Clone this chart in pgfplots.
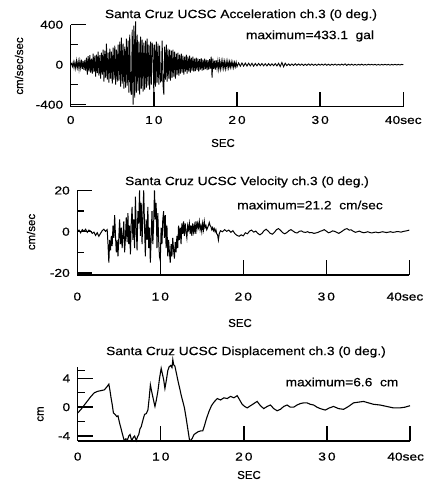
\documentclass[border=0pt]{standalone}
\usepackage{fontspec}
\setmainfont{Liberation Sans}[FakeStretch=1.15, FakeBold=0.4]
\newfontfamily\tickfont{Liberation Sans}[FakeStretch=1.2, FakeBold=0.5]
\newfontfamily\plainfont{Liberation Sans}[FakeBold=0.5]
\usepackage{pgfplots}
\pgfplotsset{compat=1.18}
\newcommand\ticksz{\tickfont\fontsize{11.5}{13}\selectfont}
\newcommand\titsz{\fontsize{12}{14}\selectfont}
\newcommand\labsz{\plainfont\fontsize{11.5}{13}\selectfont}
\newcommand\ylabsz{\plainfont\fontsize{11.5}{13}\selectfont}
\pgfplotsset{seis/.style={
  scale only axis, enlargelimits=false, clip=false,
  axis x line=bottom, axis y line=left,
  axis line style={-, line width=1.6pt},
  xmin=0, xmax=40,
  xtick={0,10,20,30,40},
  tick align=inside,
  major tick length=15bp, minor tick length=7bp,
  every tick/.style={black, line width=1.4pt},
  tick label style={font=\ticksz},
  yticklabel style={xshift=-4bp},
  /pgf/number format/assume math mode=true,
}}
\begin{document}
\begin{tikzpicture}
\useasboundingbox (0,0) rectangle (425bp,-484bp);
% ---------------- Acceleration
\begin{axis}[seis, at={(70.7bp,-106.7bp)}, anchor=south west,
  width=332.6bp, height=82bp, ymin=-420, ymax=400,
  xticklabels={0,1\hspace{2pt}0,2\hspace{2pt}0,3\hspace{2pt}0,40sec},
  ytick={-400,0,400}, yticklabels={-400,0,400}, minor ytick={-200,200},
  xticklabel style={yshift=-5.7bp}]
\addplot[black, line width=0.9pt, mark=none] coordinates {
(0,0)(0.1,12)(0.2,-18)(0.3,25)(0.4,-30)(0.5,22)(0.6,-35)(0.7,40)(0.8,-28)(0.9,33)
(1.0,-45)(1.1,38)(1.2,-30)(1.3,50)(1.4,-42)(1.5,35)(1.6,-55)(1.7,48)(1.8,-60)(1.9,70)
(2.0,-100)(2.1,85)(2.2,-70)(2.3,95)(2.4,-80)(2.5,60)(2.6,-90)(2.7,110)(2.8,-75)(2.9,90)
(3.0,-120)(3.1,100)(3.2,-85)(3.3,130)(3.4,-110)(3.5,95)(3.6,-140)(3.7,120)(3.8,-100)(3.9,150)
(4.0,-170)(4.1,140)(4.2,-130)(4.3,210)(4.4,-150)(4.5,120)(4.6,-180)(4.7,160)(4.8,-140)(4.9,130)
(5.0,-190)(5.1,170)(5.2,-150)(5.3,190)(5.4,-200)(5.5,150)(5.6,-170)(5.7,200)(5.8,-160)(5.9,230)
(6.0,-220)(6.1,270)(6.2,-190)(6.3,210)(6.4,-240)(6.5,180)(6.6,-230)(6.7,260)(6.8,-210)(6.9,240)
(7.0,-280)(7.1,300)(7.2,-250)(7.3,-300)(7.4,350)(7.5,-400)(7.6,390)(7.7,-330)(7.8,433)(7.9,-280)
(8.0,300)(8.1,-260)(8.2,230)(8.3,-300)(8.4,280)(8.5,-240)(8.6,250)(8.7,-270)(8.8,220)(8.9,-250)
(9.0,240)(9.1,-230)(9.2,260)(9.3,-210)(9.4,200)(9.5,-250)(9.6,230)(9.7,-200)(9.8,210)(9.9,190)
(10.0,-330)(10.1,200)(10.2,-220)(10.3,230)(10.4,-180)(10.5,210)(10.6,-200)(10.7,190)(10.8,-170)(10.9,-160)
(11.0,240)(11.1,-200)(11.2,-300)(11.3,180)(11.4,-150)(11.5,200)(11.6,-170)(11.7,160)(11.8,-140)(11.9,150)
(12.0,-160)(12.1,140)(12.2,-130)(12.3,150)(12.4,-120)(12.5,130)(12.6,-140)(12.7,110)(12.8,-100)(12.9,120)
(13.0,-110)(13.1,100)(13.2,-90)(13.3,110)(13.4,-80)(13.5,90)(13.6,-100)(13.7,80)(13.8,-70)(13.9,100)
(14.0,-90)(14.1,80)(14.2,-70)(14.3,90)(14.4,-80)(14.5,70)(14.6,-60)(14.7,80)(14.8,-70)(14.9,60)
(15.0,-65)(15.1,70)(15.2,-55)(15.3,60)(15.4,-70)(15.5,55)(15.6,-50)(15.7,65)(15.8,-60)(15.9,50)
(16.0,-55)(16.1,60)(16.2,-45)(16.3,50)(16.4,-55)(16.5,45)(16.6,-50)(16.7,55)(16.8,-40)(16.9,80)
(17.0,-130)(17.1,60)(17.2,-45)(17.3,40)(17.4,-50)(17.5,45)(17.6,-35)(17.7,40)(17.8,-45)(17.9,35)
(18.0,-40)(18.1,35)(18.2,-30)(18.3,40)(18.4,-35)(18.5,30)(18.6,-38)(18.7,32)(18.8,-28)(18.9,35)
(19.0,-30)(19.1,28)(19.2,-25)(19.3,30)(19.4,-22)(19.5,25)(19.6,-28)(19.7,22)(19.8,-20)(19.9,25)
(20.0,-20)(20.2,18)(20.4,-15)(20.6,17)(20.8,-14)(21.0,16)(21.2,-13)(21.4,15)(21.6,-12)(21.8,14)
(22.0,-15)(22.2,12)(22.4,-11)(22.6,13)(22.8,-10)(23.0,12)(23.2,-11)(23.4,10)(23.6,-12)(23.8,11)
(24.0,-10)(24.2,9)(24.4,-10)(24.6,11)(24.8,-12)(25.0,14)(25.2,-18)(25.4,22)(25.6,-20)(25.8,15)
(26.0,-10)(26.2,8)(26.4,-9)(26.6,7)(26.8,-8)(27.0,9)(27.2,-7)(27.4,8)(27.6,-6)(27.8,7)
(28.0,-8)(28.2,6)(28.4,-7)(28.6,8)(28.8,-6)(29.0,7)(29.2,-6)(29.4,5)(29.6,-7)(29.8,6)
(30.0,-5)(30.2,6)(30.4,-5)(30.6,7)(30.8,-6)(31.0,5)(31.2,-6)(31.4,5)(31.6,-4)(31.8,6)
(32.0,-5)(32.2,4)(32.4,-5)(32.6,6)(32.8,-4)(33.0,8)(33.2,-7)(33.4,5)(33.6,-4)(33.8,5)
(34.0,-5)(34.2,4)(34.4,-5)(34.6,4)(34.8,-4)(35.0,5)(35.2,-4)(35.4,3)(35.6,-4)(35.8,5)
(36.0,-3)(36.2,4)(36.4,-3)(36.6,4)(36.8,-4)(37.0,3)(37.2,-4)(37.4,3)(37.6,-3)(37.8,4)
(38.0,-3)(38.2,3)(38.4,-4)(38.6,3)(38.8,-3)(39.0,4)(39.2,-3)(39.4,3)(39.6,-3)(39.8,3)(40.0,0)
};
\end{axis}
% ---------------- Velocity
\begin{axis}[seis, at={(77.3bp,-275bp)}, anchor=south west,
  width=332bp, height=84.5bp, ymin=-21, ymax=20,
  xticklabels={0,1\hspace{2pt}0,2\hspace{2pt}0,3\hspace{2pt}0,\makebox[28bp][r]{40sec}},
  ytick={-20,0,20}, yticklabels={-20,0,20}, minor ytick={-10,10},
  xticklabel style={yshift=-14bp}]
\addplot[black, line width=1pt, mark=none] coordinates {
(0,0)(0.2,0.8)(0.4,-0.5)(0.6,1.0)(0.8,0.2)(1.0,1.2)(1.2,-0.3)(1.4,0.8)(1.6,0.3)(1.8,-0.8)
(2.0,-0.2)(2.2,-1.8)(2.4,-0.5)(2.6,-2.2)(2.8,-0.8)(3.0,0.5)(3.2,1.2)(3.4,0.2)(3.6,1.0)
(3.7,-6)(3.8,-15)(3.9,-4)(4.0,-9)(4.1,-2)(4.2,-7)(4.3,3)(4.4,-3)(4.5,8)(4.6,-2)
(4.7,-10)(4.8,-4)(4.9,-12)(5.0,-3)(5.1,6)(5.2,-6)(5.3,2)(5.4,-8)(5.5,-2)(5.6,5)
(5.7,-10)(5.8,-3)(5.9,7)(6.0,-5)(6.1,9)(6.2,-6)(6.3,3)(6.4,-11)(6.5,4)(6.6,12)
(6.7,-4)(6.8,6)(6.9,-8)(7.0,17)(7.1,2)(7.2,-9)(7.3,10)(7.4,4)(7.5,20)(7.6,-2)
(7.7,14)(7.8,-6)(7.9,8)(8.0,20)(8.1,3)(8.2,-12)(8.3,6)(8.4,-4)(8.5,12)(8.6,-8)
(8.7,2)(8.8,-15)(8.9,-3)(9.0,10)(9.1,-6)(9.2,4)(9.3,20)(9.4,6)(9.5,14)(9.6,-8)
(9.7,9)(9.8,-4)(9.9,-12)(10.0,-14)(10.1,2)(10.2,-6)(10.3,6)(10.4,10)(10.5,-3)(10.6,8)
(10.7,-8)(10.8,3)(10.9,-12)(11.0,-4)(11.1,-10)(11.2,-15)(11.3,-6)(11.4,-12)(11.5,-3)(11.6,-9)
(11.7,-13)(11.8,-5)(11.9,-10)(12.0,-2)(12.1,-8)(12.2,3)(12.3,-4)(12.4,2)(12.5,-6)(12.6,4)
(12.7,-1)(12.8,5)(12.9,-2)(13.0,4)(13.1,0)(13.2,-3)(13.3,3)(13.4,1)(13.5,4)(13.6,-1)
(13.7,3)(13.8,-2)(13.9,4)(14.0,0)(14.1,3)(14.2,-1)(14.3,5)(14.4,1)(14.5,4)(14.6,2)
(14.7,5)(14.8,1)(14.9,3)(15.0,0)(15.1,4)(15.2,1)(15.3,5)(15.4,2)(15.5,3)(15.6,1)
(15.7,2)(15.8,3)(15.9,4.5)(16.0,3)(16.1,2.5)(16.2,1)(16.3,2)(16.4,0.5)(16.5,1.5)(16.6,0)
(16.7,1)(16.8,-1)(16.9,-1.5)(17.0,-4)(17.1,-1)
(17.25,0.5)(17.5,0)(17.75,1)(18.0,0.2)(18.25,0.8)(18.5,-0.3)(18.75,0.5)(19.0,-1)(19.25,-1.8)(19.5,-2.2)
(19.75,-1.5)(20.0,-2)(20.25,-0.5)(20.5,-1)(20.75,0.3)(21.0,0.8)(21.25,-0.2)(21.5,0.3)(21.75,-0.8)(22.0,-1.5)
(22.25,-0.8)(22.5,0.5)(22.75,1.2)(23.0,0.3)(23.25,-0.8)(23.5,-1.2)(23.75,-0.3)(24.0,1.0)(24.25,1.5)(24.5,0.6)
(24.75,-0.5)(25.0,-1.0)(25.25,-0.4)(25.5,0.5)(25.75,1.0)(26.0,0.3)(26.25,-0.4)(26.5,-0.6)(26.75,0.2)(27.0,0.4)
(27.25,-0.2)(27.5,-0.3)(27.75,0)(28.0,-0.5)(28.25,-0.4)(28.5,-0.8)(28.75,-0.6)(29.0,-0.3)(29.25,0.2)(29.5,0.5)
(29.75,1.0)(30.0,0.3)(30.25,-0.5)(30.5,-0.2)(30.75,0.4)(31.0,0.2)(31.25,-0.3)(31.5,-0.8)(31.75,-0.2)(32.0,0.5)
(32.25,1.2)(32.5,1.5)(32.75,0.8)(33.0,0.9)(33.25,0.2)(33.5,-0.3)(33.75,0)(34.0,0.3)(34.25,-0.2)(34.5,-0.5)
(34.75,-0.3)(35.0,0)(35.25,-0.4)(35.5,-0.6)(35.75,-0.3)(36.0,-0.2)(36.25,-0.5)(36.5,-0.3)(36.75,0)(37.0,-0.2)
(37.25,-0.4)(37.5,-0.2)(37.75,0)(38.0,-0.3)(38.25,-0.2)(38.5,0.1)(38.75,0)(39.0,-0.2)(39.25,0.1)(39.5,0.3)
(39.75,0.5)(40.0,0.8)
};
\end{axis}
% ---------------- Displacement
\begin{axis}[seis, at={(77.7bp,-441bp)}, anchor=south west,
  width=332.3bp, height=74.5bp, ymin=-4.7, ymax=5.65,
  xticklabels={0,1\hspace{2pt}0,2\hspace{2pt}0,3\hspace{2pt}0,\makebox[28bp][r]{40sec}},
  ytick={-4,0,4}, yticklabels={-4,0,4}, minor ytick={-2,2,5.1},
  xticklabel style={yshift=-8bp}]
\addplot[black, line width=1.1pt, mark=none] coordinates {
(0,-0.8)(0.4,-0.3)(0.8,0.3)(1.2,0.9)(1.6,1.5)(2.0,2.0)(2.4,2.2)(2.8,2.3)(3.2,2.4)(3.5,2.8)
(3.75,3.2)(3.9,2.2)(4.0,1.4)(4.15,0.4)(4.3,-0.8)(4.5,-1.0)(4.7,-1.3)(4.85,-1.2)(5.0,-2.0)(5.2,-2.9)
(5.4,-3.8)(5.6,-4.65)(5.8,-4.4)(6.0,-4.5)(6.15,-4.0)(6.3,-3.8)(6.5,-4.65)(6.7,-4.2)(6.85,-4.0)(7.05,-4.65)
(7.2,-4.1)(7.35,-3.8)(7.5,-3.0)(7.65,-2.7)(7.85,-1.8)(8.05,-1.0)(8.25,-0.9)(8.45,-0.4)(8.6,1.2)(8.75,3.1)
(8.9,2.2)(9.05,1.4)(9.2,0.6)(9.3,0.1)(9.45,0.9)(9.65,2.2)(9.85,4.0)(10.05,5.4)(10.2,4.6)(10.35,3.8)
(10.5,2.6)(10.65,3.6)(10.85,5.1)(11.0,5.6)(11.2,5.8)(11.35,5.5)(11.45,6.6)(11.55,5.9)(11.7,5.7)(11.9,4.6)
(12.1,3.5)(12.3,2.5)(12.45,1.7)(12.65,0.8)(12.85,-0.1)(13.05,-1.5)(13.25,-3.0)(13.45,-4.5)(13.6,-4.65)(13.8,-4.3)
(14.0,-3.8)(14.25,-3.6)(14.5,-3.4)(14.8,-3.3)(15.05,-3.3)(15.25,-2.6)(15.5,-1.6)(15.8,-0.6)(16.1,0.2)(16.4,0.7)
(16.8,1.2)(17.2,1.0)(17.6,1.3)(18.0,1.2)(18.4,1.5)(18.8,1.3)(19.2,1.6)(19.5,1.0)(19.8,0.4)(20.1,0.1)
(20.4,-0.1)(20.8,0.2)(21.2,0.5)(21.6,0.8)(22.0,0.2)(22.4,-0.2)(22.8,0.1)(23.2,0.3)(23.6,-0.2)(24.0,-0.5)
(24.4,-0.3)(24.8,0.1)(25.2,0.3)(25.6,0.0)(26.0,0.0)(26.4,0.3)(26.8,0.5)(27.2,0.6)(27.6,0.6)(28.0,0.4)
(28.4,0.3)(28.8,0.0)(29.2,-0.2)(29.8,-0.4)(30.3,-0.1)(30.8,0.1)(31.4,-0.2)(32.0,-0.3)(32.6,0.1)(33.2,0.6)
(33.8,0.7)(34.4,0.8)(35.0,0.6)(35.6,0.4)(36.4,0.3)(37.2,0.1)(38.0,-0.1)(38.8,-0.1)(39.4,0.0)(40.0,0.2)
};
\end{axis}
% ---------------- texts
\node[font=\titsz] at (241bp,-15bp) {Santa Cruz UCSC Acceleration ch.3 (0 deg.)};
\node[font=\titsz] at (310bp,-36bp) {maximum=433.1\ \ gal};
\node[font=\labsz] at (223bp,-143bp) {SEC};
\node[font=\ylabsz, rotate=90] at (19bp,-66bp) {cm/sec/sec};

\node[font=\titsz] at (247bp,-182bp) {Santa Cruz UCSC Velocity ch.3 (0 deg.)};
\node[font=\titsz] at (310bp,-205bp) {maximum=21.2\ \ cm/sec};
\node[font=\labsz] at (240bp,-323bp) {SEC};
\node[font=\ylabsz, rotate=90] at (31bp,-232bp) {cm/sec};

\node[font=\titsz] at (246bp,-352bp) {Santa Cruz UCSC Displacement ch.3 (0 deg.)};
\node[font=\titsz] at (342bp,-382bp) {maximum=6.6\ \ cm};
\node[font=\labsz] at (249bp,-475bp) {SEC};
\node[font=\ylabsz, rotate=90] at (40.5bp,-414bp) {cm};
\end{tikzpicture}
\end{document}
